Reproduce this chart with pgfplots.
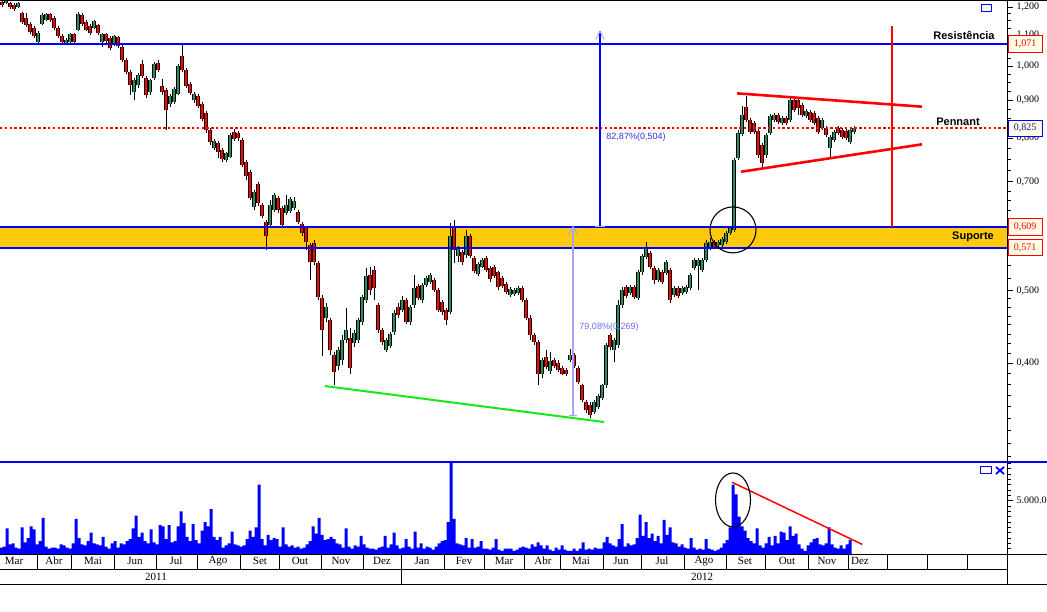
\documentclass[border=0pt]{standalone}
\usepackage{fontspec}
\setmainfont{Liberation Serif}
\newfontfamily\lsans{Liberation Sans}
\usepackage{pgfplots}
\usepackage{pgfplotstable}
\pgfplotsset{compat=1.18}

\definecolor{candleup}{RGB}{46,139,87}
\definecolor{candledn}{RGB}{255,0,0}
\definecolor{band}{RGB}{255,201,14}
\definecolor{boxfill}{RGB}{255,253,231}
\definecolor{lav}{RGB}{165,165,255}
\definecolor{lavtext}{RGB}{110,110,255}
\definecolor{meas}{RGB}{50,50,220}
\definecolor{lime}{RGB}{20,235,20}

\pgfplotsset{candle/.style={only marks, mark=none, mark size=0pt,
  mark options={draw=none, fill=none}, forget plot}}

\begin{document}
% daily candles (every other session), price in R$
\pgfplotstableread{
x o h l c
2 1.218 1.226 1.200 1.207
6 1.215 1.226 1.211 1.222
10 1.215 1.218 1.193 1.200
14 1.207 1.215 1.185 1.193
18 1.200 1.218 1.196 1.215
22 1.178 1.182 1.139 1.146
26 1.160 1.178 1.128 1.135
30 1.139 1.146 1.104 1.111
34 1.125 1.132 1.090 1.097
38 1.077 1.114 1.074 1.107
42 1.139 1.178 1.135 1.171
46 1.153 1.178 1.149 1.175
50 1.175 1.178 1.146 1.153
54 1.160 1.167 1.118 1.125
58 1.125 1.132 1.090 1.097
62 1.097 1.104 1.070 1.077
66 1.074 1.090 1.070 1.084
70 1.077 1.107 1.074 1.104
74 1.104 1.107 1.070 1.077
78 1.118 1.182 1.114 1.175
82 1.171 1.178 1.132 1.139
86 1.146 1.153 1.114 1.118
90 1.132 1.139 1.100 1.107
94 1.125 1.153 1.121 1.149
98 1.135 1.139 1.100 1.107
102 1.077 1.107 1.061 1.104
106 1.104 1.107 1.074 1.080
110 1.090 1.097 1.051 1.057
114 1.070 1.100 1.064 1.097
118 1.094 1.097 1.057 1.064
122 1.061 1.067 1.013 1.019
126 1.019 1.025 0.976 0.982
130 0.982 0.988 0.915 0.943
134 0.923 0.964 0.900 0.958
138 0.943 0.979 0.935 0.973
142 1.006 1.019 0.964 0.970
146 0.964 0.970 0.906 0.915
150 0.923 0.961 0.915 0.958
154 0.964 1.013 0.958 1.006
158 1.010 1.019 0.982 0.988
162 0.940 0.961 0.915 0.923
166 0.929 0.935 0.821 0.873
170 0.889 0.918 0.881 0.912
174 0.895 0.937 0.889 0.932
178 0.918 1.006 0.915 1.000
182 1.032 1.074 0.982 0.988
186 0.988 0.994 0.935 0.940
190 0.946 0.952 0.915 0.920
194 0.900 0.923 0.892 0.918
198 0.912 0.918 0.878 0.884
202 0.889 0.895 0.843 0.849
206 0.865 0.870 0.813 0.821
210 0.821 0.826 0.784 0.791
214 0.777 0.798 0.772 0.794
218 0.789 0.794 0.753 0.767
222 0.772 0.777 0.744 0.751
226 0.748 0.767 0.744 0.765
230 0.755 0.813 0.753 0.808
234 0.816 0.823 0.794 0.798
238 0.813 0.818 0.794 0.801
242 0.796 0.801 0.732 0.737
246 0.744 0.748 0.703 0.712
250 0.721 0.725 0.661 0.665
254 0.647 0.682 0.641 0.678
258 0.695 0.699 0.649 0.655
262 0.651 0.655 0.626 0.629
266 0.618 0.622 0.567 0.592
270 0.612 0.661 0.607 0.651
274 0.641 0.676 0.637 0.672
278 0.665 0.670 0.635 0.641
282 0.645 0.649 0.607 0.612
286 0.635 0.672 0.631 0.651
290 0.639 0.668 0.635 0.663
294 0.645 0.668 0.641 0.659
298 0.637 0.641 0.614 0.618
302 0.614 0.618 0.592 0.598
306 0.607 0.610 0.567 0.581
310 0.576 0.579 0.517 0.546
314 0.579 0.584 0.541 0.546
318 0.544 0.548 0.486 0.490
322 0.489 0.493 0.408 0.443
326 0.460 0.481 0.454 0.475
330 0.457 0.460 0.410 0.416
334 0.410 0.414 0.374 0.389
338 0.396 0.420 0.391 0.416
342 0.404 0.436 0.398 0.429
346 0.429 0.474 0.425 0.443
350 0.432 0.446 0.387 0.394
354 0.425 0.443 0.420 0.439
358 0.429 0.460 0.425 0.457
362 0.454 0.493 0.450 0.490
366 0.486 0.536 0.481 0.523
370 0.525 0.538 0.493 0.501
374 0.533 0.539 0.486 0.504
378 0.478 0.481 0.439 0.443
382 0.443 0.446 0.423 0.427
386 0.416 0.432 0.414 0.429
390 0.421 0.440 0.419 0.437
394 0.440 0.471 0.436 0.467
398 0.475 0.481 0.460 0.464
402 0.471 0.492 0.468 0.486
406 0.486 0.489 0.451 0.454
410 0.454 0.478 0.450 0.475
414 0.478 0.525 0.474 0.504
418 0.507 0.511 0.486 0.489
422 0.486 0.512 0.481 0.509
426 0.509 0.523 0.506 0.520
430 0.514 0.528 0.511 0.525
434 0.517 0.520 0.498 0.501
438 0.501 0.504 0.468 0.471
442 0.483 0.486 0.463 0.468
446 0.471 0.474 0.450 0.457
450 0.468 0.616 0.465 0.592
454 0.607 0.622 0.544 0.567
458 0.556 0.574 0.546 0.571
462 0.563 0.567 0.541 0.546
466 0.558 0.603 0.553 0.592
470 0.592 0.596 0.553 0.556
474 0.553 0.556 0.528 0.531
478 0.527 0.546 0.523 0.543
482 0.538 0.553 0.536 0.549
486 0.553 0.556 0.530 0.533
490 0.536 0.539 0.514 0.519
494 0.538 0.541 0.520 0.523
498 0.530 0.531 0.501 0.506
502 0.520 0.523 0.504 0.507
506 0.511 0.514 0.495 0.498
510 0.493 0.506 0.490 0.503
514 0.495 0.504 0.492 0.501
518 0.496 0.507 0.493 0.504
522 0.504 0.507 0.483 0.486
526 0.486 0.489 0.457 0.460
530 0.460 0.463 0.429 0.436
534 0.436 0.439 0.423 0.427
538 0.427 0.429 0.374 0.387
542 0.386 0.406 0.382 0.404
546 0.407 0.416 0.392 0.395
550 0.390 0.414 0.387 0.402
554 0.404 0.406 0.394 0.396
558 0.400 0.403 0.389 0.391
562 0.394 0.396 0.385 0.387
566 0.391 0.394 0.384 0.386
570 0.404 0.417 0.401 0.410
574 0.410 0.412 0.394 0.396
578 0.394 0.396 0.375 0.377
582 0.374 0.375 0.355 0.357
586 0.355 0.357 0.343 0.346
590 0.351 0.355 0.337 0.341
594 0.344 0.357 0.342 0.355
598 0.349 0.363 0.347 0.361
602 0.359 0.375 0.357 0.374
606 0.374 0.425 0.370 0.423
610 0.436 0.439 0.416 0.420
614 0.416 0.432 0.401 0.429
618 0.423 0.486 0.419 0.478
622 0.478 0.506 0.474 0.501
626 0.506 0.509 0.489 0.492
630 0.496 0.509 0.493 0.506
634 0.506 0.509 0.487 0.490
638 0.489 0.533 0.486 0.530
642 0.530 0.560 0.525 0.556
646 0.555 0.581 0.551 0.571
650 0.562 0.565 0.535 0.538
654 0.536 0.539 0.511 0.517
658 0.517 0.536 0.514 0.533
662 0.530 0.533 0.511 0.514
666 0.528 0.549 0.525 0.546
670 0.533 0.536 0.481 0.486
674 0.493 0.507 0.490 0.504
678 0.504 0.507 0.489 0.492
682 0.496 0.507 0.493 0.504
686 0.498 0.509 0.495 0.506
690 0.504 0.528 0.501 0.525
694 0.536 0.553 0.533 0.549
698 0.539 0.553 0.501 0.549
702 0.533 0.553 0.530 0.549
706 0.549 0.584 0.546 0.579
710 0.571 0.588 0.567 0.581
714 0.581 0.584 0.569 0.572
718 0.576 0.584 0.572 0.581
722 0.576 0.590 0.572 0.586
726 0.581 0.601 0.578 0.598
730 0.598 0.610 0.594 0.607
734 0.603 0.753 0.599 0.748
738 0.753 0.821 0.748 0.813
742 0.811 0.884 0.806 0.860
746 0.881 0.912 0.841 0.846
750 0.846 0.852 0.811 0.816
754 0.838 0.843 0.811 0.816
758 0.818 0.823 0.753 0.760
762 0.784 0.789 0.732 0.741
766 0.760 0.813 0.753 0.808
770 0.813 0.863 0.808 0.857
774 0.846 0.865 0.841 0.860
778 0.860 0.865 0.836 0.841
782 0.838 0.857 0.833 0.852
786 0.852 0.857 0.833 0.838
790 0.846 0.906 0.841 0.900
794 0.900 0.909 0.868 0.873
798 0.900 0.906 0.860 0.878
802 0.887 0.892 0.854 0.860
806 0.857 0.876 0.852 0.870
810 0.868 0.873 0.841 0.846
814 0.865 0.870 0.833 0.838
818 0.852 0.857 0.811 0.816
822 0.826 0.852 0.821 0.846
826 0.826 0.831 0.803 0.808
830 0.777 0.808 0.755 0.803
834 0.796 0.821 0.791 0.816
838 0.826 0.831 0.808 0.813
842 0.821 0.826 0.798 0.803
846 0.818 0.823 0.796 0.801
850 0.791 0.826 0.786 0.821
854 0.816 0.831 0.811 0.826
}\candles

% volume, millions
\pgfplotstableread[row sep=\\]{
x v\\ 1 0.6\\ 4 0.7\\ 7 2.4\\ 10 0.9\\ 13 1.0\\ 16 0.6\\ 19 0.5\\ 22 2.5\\ 25 1.1\\ 28 1.5\\
31 2.6\\ 34 2.3\\ 37 0.9\\ 40 1.2\\ 43 3.4\\ 46 0.7\\ 49 0.5\\ 52 0.6\\ 55 0.6\\ 58 0.5\\
61 0.9\\ 64 0.8\\ 67 0.6\\ 70 0.5\\ 73 1.0\\ 76 3.3\\ 79 1.5\\ 82 0.9\\ 85 0.8\\ 88 1.2\\
91 2.0\\ 94 1.0\\ 97 0.9\\ 100 0.8\\ 103 1.6\\ 106 0.7\\ 109 0.5\\ 112 1.0\\ 115 1.2\\ 118 0.6\\
121 1.0\\ 124 0.9\\ 127 1.2\\ 130 1.4\\ 133 2.4\\ 136 3.6\\ 139 1.6\\ 142 2.0\\ 145 1.2\\ 148 1.0\\
151 2.3\\ 154 1.1\\ 157 0.9\\ 160 2.7\\ 163 2.6\\ 166 1.4\\ 169 2.7\\ 172 1.1\\ 175 1.2\\ 178 2.6\\
181 4.0\\ 184 2.9\\ 187 1.6\\ 190 1.2\\ 193 2.8\\ 196 1.3\\ 199 1.0\\ 202 2.2\\ 205 3.0\\ 208 2.6\\
211 4.2\\ 214 1.6\\ 217 1.3\\ 220 1.6\\ 223 0.6\\ 226 0.8\\ 229 1.0\\ 232 2.1\\ 235 0.9\\ 238 0.8\\
241 0.7\\ 244 0.8\\ 247 1.4\\ 250 2.2\\ 253 1.6\\ 256 2.5\\ 259 6.5\\ 262 1.4\\ 265 0.8\\ 268 1.8\\
271 1.3\\ 274 1.5\\ 277 1.4\\ 280 0.7\\ 283 2.5\\ 286 0.9\\ 289 0.7\\ 292 0.8\\ 295 0.6\\ 298 0.7\\
301 0.5\\ 304 0.6\\ 307 0.9\\ 310 1.2\\ 313 2.6\\ 316 1.9\\ 319 3.4\\ 322 1.8\\ 325 1.3\\ 328 1.4\\
331 1.6\\ 334 1.4\\ 337 1.0\\ 340 0.9\\ 343 0.6\\ 346 2.4\\ 349 0.7\\ 352 0.5\\ 355 0.8\\ 358 0.7\\
361 1.7\\ 364 0.9\\ 367 0.6\\ 370 0.5\\ 373 0.5\\ 376 0.4\\ 379 0.6\\ 382 0.7\\ 385 1.7\\ 388 0.6\\
391 0.9\\ 394 2.0\\ 397 0.8\\ 400 0.5\\ 403 0.6\\ 406 1.4\\ 409 0.7\\ 412 0.5\\ 415 2.1\\ 418 0.6\\
421 1.0\\ 424 0.5\\ 427 0.7\\ 430 0.6\\ 433 0.4\\ 436 0.7\\ 439 1.0\\ 442 1.2\\ 445 1.3\\ 448 3.0\\
451 8.7\\ 454 3.3\\ 457 1.0\\ 460 0.9\\ 463 0.8\\ 466 1.5\\ 469 0.6\\ 472 1.4\\ 475 0.6\\ 478 0.7\\
481 1.2\\ 484 0.5\\ 487 0.5\\ 490 0.4\\ 493 0.6\\ 496 1.4\\ 499 0.4\\ 502 0.3\\ 505 0.5\\ 508 0.5\\
511 0.5\\ 514 0.3\\ 517 0.4\\ 520 0.6\\ 523 0.7\\ 526 0.6\\ 529 0.5\\ 532 0.9\\ 535 0.7\\ 538 1.1\\
541 0.8\\ 544 0.5\\ 547 0.8\\ 550 0.4\\ 553 0.3\\ 556 0.6\\ 559 0.4\\ 562 0.8\\ 565 0.4\\ 568 0.3\\
571 0.3\\ 574 0.5\\ 577 0.3\\ 580 0.5\\ 583 1.1\\ 586 0.4\\ 589 0.5\\ 592 0.4\\ 595 0.6\\ 598 0.5\\
601 0.5\\ 604 1.1\\ 607 1.6\\ 610 1.0\\ 613 0.8\\ 616 0.7\\ 619 1.4\\ 622 2.8\\ 625 0.7\\ 628 1.0\\
631 0.8\\ 634 0.9\\ 637 1.5\\ 640 3.7\\ 643 1.7\\ 646 3.0\\ 649 1.5\\ 652 1.9\\ 655 1.2\\ 658 1.7\\
661 1.0\\ 664 3.2\\ 667 1.8\\ 670 2.5\\ 673 1.1\\ 676 1.0\\ 679 0.7\\ 682 0.9\\ 685 0.6\\ 688 0.5\\
691 1.5\\ 694 0.6\\ 697 0.4\\ 700 0.5\\ 703 0.4\\ 706 1.4\\ 709 0.5\\ 712 0.4\\ 715 0.3\\ 718 0.4\\
721 0.6\\ 724 1.0\\ 727 1.3\\ 730 2.5\\ 733 6.5\\ 736 5.6\\ 739 3.5\\ 742 2.6\\ 745 2.2\\ 748 1.5\\
751 1.2\\ 754 1.0\\ 757 2.4\\ 760 0.8\\ 763 0.6\\ 766 1.0\\ 769 1.6\\ 772 0.8\\ 775 1.7\\ 778 1.0\\
781 2.1\\ 784 2.0\\ 787 1.3\\ 790 2.6\\ 793 1.7\\ 796 1.9\\ 799 0.9\\ 802 0.5\\ 805 0.3\\ 808 0.8\\
811 1.1\\ 814 1.4\\ 817 1.5\\ 820 0.9\\ 823 0.8\\ 826 1.0\\ 829 2.5\\ 832 0.9\\ 835 0.6\\ 838 0.5\\
841 0.8\\ 844 0.5\\ 847 0.9\\ 850 1.3\\
}\volume

\begin{tikzpicture}[x=1pt,y=1pt]
\useasboundingbox (0,0) rectangle (1047,612);

% ---------------- price panel ----------------
\begin{axis}[
  at={(0pt,150pt)}, anchor=south west,
  width=1007pt, height=462pt, scale only axis,
  xmin=0, xmax=1007, ymode=log, ymin=0.2946, ymax=1.2259,
  axis x line=none, xtick=\empty,
  axis y line*=right,
  y axis line style={-, black, line width=0.8pt},
  tick align=outside, major tick length=6pt, minor tick length=4pt,
  every tick/.style={black, line width=0.6pt},
  ytick={0.4,0.5,0.7,0.8,0.9,1.0,1.1,1.2},
  yticklabels={{0,400},{0,500},{0,700},{0,800},{0,900},{1,000},{1,100},{1,200}},
  minor ytick={0.3,0.3125,...,0.39,0.4125,0.425,...,0.49,0.52,0.54,...,0.69,0.725,0.75,...,0.79,0.825,0.85,0.875,0.925,0.95,0.975,1.025,1.05,1.075,1.125,1.15,1.175},
  yticklabel style={font=\fontsize{10}{10}\selectfont},
  clip=false,
]
\fill[band] (axis cs:0,0.571) rectangle (axis cs:1007,0.609);

% wicks
\addplot[candle,
  error bars/.cd, y dir=plus, y explicit, error mark=none,
  error bar style={draw=black, line width=0.9pt}]
  table[x=x, y=l, y error plus expr=\thisrow{h}-\thisrow{l}] {\candles};
% bodies: black outline
\addplot[candle,
  error bars/.cd, y dir=plus, y explicit, error mark=none,
  error bar style={draw=black, line width=3.9pt}]
  table[x=x, y expr={min(\thisrow{o},\thisrow{c})},
        y error plus expr={abs(\thisrow{c}-\thisrow{o})}] {\candles};
% rising sessions
\addplot[candle,
  restrict expr to domain={\thisrow{c}-\thisrow{o}}{0:10},
  error bars/.cd, y dir=plus, y explicit, error mark=none,
  error bar style={draw=candleup, line width=2.2pt}]
  table[x=x, y expr={min(\thisrow{o},\thisrow{c})},
        y error plus expr={abs(\thisrow{c}-\thisrow{o})}] {\candles};
% falling sessions
\addplot[candle,
  restrict expr to domain={\thisrow{o}-\thisrow{c}}{0.0000001:10},
  error bars/.cd, y dir=plus, y explicit, error mark=none,
  error bar style={draw=candledn, line width=2.2pt}]
  table[x=x, y expr={min(\thisrow{o},\thisrow{c})},
        y error plus expr={abs(\thisrow{c}-\thisrow{o})}] {\candles};

% support / resistance
\draw[blue, line width=2pt] (axis cs:0,1.071) -- (axis cs:1007,1.071);
\draw[blue, line width=2pt] (axis cs:0,0.609) -- (axis cs:1007,0.609);
\draw[blue, line width=2pt] (axis cs:0,0.571) -- (axis cs:1007,0.571);
\draw[red, line width=2pt, dash pattern=on 2.4pt off 2.4pt] (axis cs:0,0.825) -- (axis cs:1007,0.825);

% bottom trend line
\draw[lime, line width=2pt] (axis cs:325,0.3724) -- (axis cs:604,0.3333);

% measurements
\draw[lav, line width=1.6pt] (axis cs:573,0.340) -- (axis cs:573,0.609);
\draw[lav, line width=1pt] ([xshift=-4pt]axis cs:573,0.340) -- ([xshift=4pt]axis cs:573,0.340);
\draw[lav, line width=1pt] ([xshift=-5pt,yshift=-8pt]axis cs:573,0.609) -- (axis cs:573,0.609) -- ([xshift=5pt,yshift=-8pt]axis cs:573,0.609);
\node[font=\lsans\fontsize{9}{9}\selectfont, text=lavtext] at (axis cs:609,0.446) {79,08\%(0,269)};

\draw[blue, line width=1.3pt] (axis cs:600,0.609) -- (axis cs:600,1.113);
\draw[lav, line width=1pt] ([xshift=-5pt]axis cs:600,0.609) -- ([xshift=5pt]axis cs:600,0.609);
\draw[lav, line width=1pt] ([xshift=-4pt,yshift=-8pt]axis cs:600,1.113) -- (axis cs:600,1.113) -- ([xshift=4pt,yshift=-8pt]axis cs:600,1.113);
\node[font=\lsans\fontsize{9}{9}\selectfont, text=meas] at (axis cs:636,0.803) {82,87\%(0,504)};

% pennant
\draw[red, line width=2.6pt] (axis cs:737,0.919) -- (axis cs:922,0.882);
\draw[red, line width=2.6pt] (axis cs:741,0.7216) -- (axis cs:922,0.7853);
\draw[red, line width=1.4pt] (axis cs:892,1.131) -- (axis cs:892,0.609);

% breakout circle
\draw[black, line width=1.1pt] (axis cs:733,0.603) circle [radius=23pt];

\node[font=\lsans\bfseries\fontsize{11}{11}\selectfont] at (axis cs:964,1.100) {Resistência};
\node[font=\lsans\bfseries\fontsize{11}{11}\selectfont] at (axis cs:958,0.843) {Pennant};
\node[font=\lsans\bfseries\fontsize{11}{11}\selectfont] at (axis cs:973,0.590) {Suporte};

\coordinate (b1) at (axis cs:1025,1.071);
\coordinate (b2) at (axis cs:1025,0.825);
\coordinate (b3) at (axis cs:1025,0.609);
\coordinate (b4) at (axis cs:1025,0.571);
\end{axis}

\tikzset{pbox/.style={fill=boxfill, line width=0.8pt, minimum width=34pt, minimum height=16.5pt, inner sep=0pt, font=\fontsize{10}{10}\selectfont}}
\node[pbox, draw=red, text=red] at (b1) {1,071};
\node[pbox, draw=blue, text={rgb,255:red,20;green,20;blue,140}] at (b2) {0,825};
\node[pbox, draw=red, text=red] at (b3) {0,609};
\node[pbox, draw=red, text=red] at (b4) {0,571};

% ---------------- volume panel ----------------
\begin{axis}[
  at={(0pt,58pt)}, anchor=south west,
  width=1007pt, height=92pt, scale only axis,
  xmin=0, xmax=1007, ymin=0, ymax=8.63,
  axis x line=none, xtick=\empty,
  axis y line*=right,
  y axis line style={-, black, line width=0.8pt},
  tick align=outside, major tick length=6pt, minor tick length=4pt,
  every tick/.style={black, line width=0.6pt},
  ytick={5}, yticklabels={5.000.000},
  minor ytick={0.5,1,...,4.5,5.5,6,...,8.5},
  yticklabel style={font=\fontsize{10}{10}\selectfont},
]
\addplot[ybar, bar width=3, fill=blue, draw=none] table[x=x, y=v] {\volume};
\draw[red, line width=1.5pt] (axis cs:732,6.73) -- (axis cs:862,0.91);
\draw[black, line width=1.1pt] (axis cs:733,5.07) ellipse [x radius=17.5pt, y radius=27pt];
\end{axis}

% ---------------- frame, icons and date rows ----------------
\draw[black, line width=1pt] (0,611.5) -- (1047,611.5);
\draw[blue, line width=1.2pt] (0,150) -- (1047,150);
\draw[blue, line width=1pt] (981,600) rectangle (991,607);
\draw[blue, line width=1pt] (980,138) rectangle (991,145);
\draw[blue, line width=1.8pt] (996,138) -- (1004,145) (996,145) -- (1004,138);

\draw[black, line width=0.9pt] (0,58) -- (1047,58);
\draw[black, line width=0.9pt] (0,43) -- (1007,43);
\draw[black, line width=0.9pt] (0,28) -- (1047,28);
\draw[black, line width=0.9pt] (1007,150) -- (1007,28);
\draw[black, line width=0.9pt] (401,43) -- (401,28);
\foreach \b in {37,71,114,156,197,240,279,321,363,401,444,484,524,560,603,641,684,726,765,808,848,887,927,967}
  \draw[black, line width=0.9pt] (\b,58) -- (\b,43);
\foreach \p/\m in {14/Mar,54/Abr,93/Mai,135/Jun,176/Jul,218/Ago,260/Set,300/Out,341/Nov,382/Dez,422/Jan,464/Fev,504/Mar,543/Abr,581/Mai,621/Jun,662/Jul,704/Ago,745/Set,787/Out,827/Nov,860/Dez}
  \node[font=\fontsize{11}{11}\selectfont] at (\p,51) {\m};
\node[font=\fontsize{11}{11}\selectfont] at (156,35.5) {2011};
\node[font=\fontsize{11}{11}\selectfont] at (702,35.5) {2012};
\end{tikzpicture}
\end{document}
